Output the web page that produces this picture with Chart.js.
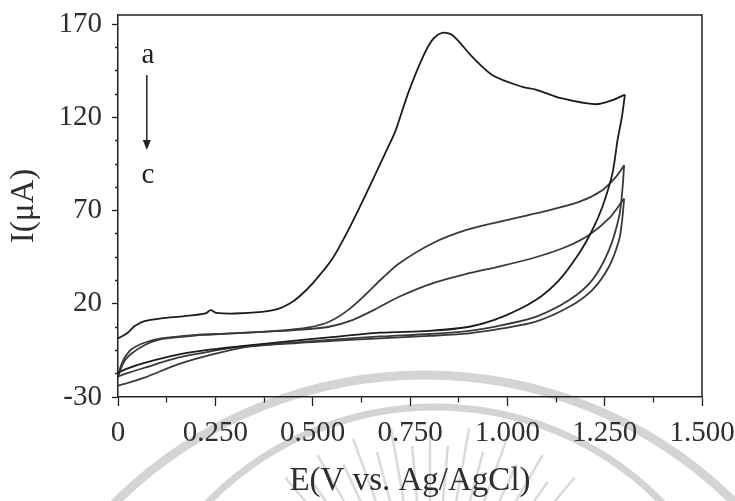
<!DOCTYPE html>
<html>
<head>
<meta charset="utf-8">
<script src="https://cdn.jsdelivr.net/npm/chart.js@4.4.1/dist/chart.umd.min.js"></script>
<style>
  html, body { margin: 0; padding: 0; background: #fff; }
</style>
</head>
<body>
<canvas id="cvChart" width="735" height="501"></canvas>
<script>
// [E (V vs Ag/AgCl), I (uA)] for each scan branch, curves a -> c
const aForward = [
  [0.000, 1.4], [0.025, 4.5], [0.042, 8.0], [0.068, 10.7], [0.111, 12.2], [0.171, 13.4],
  [0.225, 14.9], [0.238, 16.6], [0.252, 15.2], [0.300, 14.8], [0.370, 15.7], [0.410, 17.2],
  [0.440, 20.0], [0.465, 23.8], [0.500, 31.0], [0.550, 44.0], [0.600, 63.0], [0.636, 78.5],
  [0.688, 101.5], [0.713, 113.0], [0.722, 118.5], [0.747, 134.0], [0.782, 152.0], [0.807, 161.5],
  [0.833, 165.4], [0.860, 164.0], [0.910, 152.5], [0.962, 142.7], [1.039, 136.4], [1.073, 135.0],
  [1.141, 130.2], [1.227, 127.1], [1.270, 129.3], [1.302, 132.3]
];
const aReverse = [
  [1.302, 132.3], [1.294, 120.0], [1.283, 107.8], [1.270, 90.0], [1.244, 72.0], [1.218, 59.5],
  [1.184, 47.0], [1.133, 32.7], [1.073, 22.0], [0.987, 13.0], [0.902, 7.7], [0.800, 5.5],
  [0.673, 4.5], [0.542, 2.0], [0.405, -0.8], [0.317, -2.7], [0.240, -4.5], [0.154, -7.3],
  [0.068, -11.7], [0.020, -15.0], [0.000, -17.0]
];
const bForward = [
  [0.000, -18.0], [0.008, -13.0], [0.017, -8.9], [0.034, -4.5], [0.068, -0.9], [0.111, 1.4],
  [0.197, 3.2], [0.285, 4.1], [0.405, 5.5], [0.490, 7.4], [0.542, 10.4], [0.590, 16.5],
  [0.636, 25.0], [0.680, 34.0], [0.722, 41.7], [0.807, 52.4], [0.893, 59.5], [0.979, 64.0],
  [1.073, 68.5], [1.184, 74.7], [1.244, 81.0], [1.279, 88.1], [1.300, 94.4]
];
const bReverse = [
  [1.300, 94.4], [1.295, 80.0], [1.287, 66.7], [1.261, 48.8], [1.218, 32.7], [1.159, 22.0],
  [1.073, 13.0], [0.987, 8.6], [0.902, 5.5], [0.800, 3.8], [0.673, 2.5], [0.542, 0.6],
  [0.405, -1.5], [0.317, -3.0], [0.240, -5.4], [0.154, -8.9], [0.068, -14.3], [0.020, -17.5],
  [0.000, -19.0]
];
const cForward = [
  [0.000, -19.5], [0.008, -14.5], [0.017, -10.6], [0.034, -6.8], [0.068, -2.2], [0.111, 1.0],
  [0.197, 3.0], [0.285, 4.0], [0.405, 5.3], [0.490, 6.5], [0.542, 7.7], [0.602, 11.3],
  [0.660, 17.0], [0.722, 23.8], [0.807, 31.0], [0.893, 36.0], [0.979, 40.0], [1.073, 45.0],
  [1.150, 50.5], [1.210, 57.0], [1.261, 65.8], [1.300, 76.5]
];
const cReverse = [
  [1.300, 76.5], [1.295, 65.0], [1.287, 54.2], [1.261, 39.9], [1.218, 27.4], [1.159, 18.4],
  [1.073, 10.4], [0.987, 6.8], [0.902, 4.2], [0.800, 2.8], [0.673, 1.5], [0.542, 0.0],
  [0.405, -1.8], [0.317, -3.6], [0.240, -7.3], [0.154, -12.5], [0.068, -19.6], [0.020, -22.8],
  [0.004, -23.6], [0.000, -24.0]
];

const xMajor = [0, 0.25, 0.5, 0.75, 1.0, 1.25, 1.5];
const xMinor = [0.125, 0.375, 0.625, 0.875, 1.125, 1.375];
const yMajor = [-30, 20, 70, 120, 170];
const yMinor = [-17.5, -5, 7.5, 32.5, 45, 57.5, 82.5, 95, 107.5, 132.5, 145, 157.5];

// "a -> c" marker, in data units
const noteE = 0.077;
const arrowE = 0.074;
const noteTopI = 149.2;
const arrowFromI = 142.8;
const arrowToI = 102.5;
const noteBottomI = 84.8;

const serif = "'Liberation Serif', 'Times New Roman', serif";
const ink = '#222';

const toPts = arr => arr.map(p => ({ x: p[0], y: p[1] }));

function branch(arr, color) {
  return {
    data: toPts(arr),
    showLine: true,
    borderColor: color,
    borderWidth: 1.8,
    pointRadius: 0,
    tension: 0.3,
    fill: false
  };
}

// faint seal printed behind the lower part of the figure
const sealPlugin = {
  id: 'seal',
  beforeDraw(chart) {
    const c = chart.ctx;
    c.save();
    c.strokeStyle = '#d4d4d4';
    c.lineWidth = 9;
    c.beginPath();
    c.arc(425, 815, 440, Math.PI, 2 * Math.PI);
    c.stroke();
    c.lineWidth = 7;
    c.beginPath();
    c.arc(435, 725, 318, Math.PI, 2 * Math.PI);
    c.stroke();
    c.strokeStyle = '#dadada';
    c.lineWidth = 2.5;
    for (let deg = -140, k = 0; deg <= -40; deg += 5, k++) {
      const t = deg * Math.PI / 180;
      const r2 = k % 2 ? 205 : 225;
      c.beginPath();
      c.moveTo(430 + 120 * Math.cos(t), 650 + 120 * Math.sin(t));
      c.lineTo(430 + r2 * Math.cos(t), 650 + r2 * Math.sin(t));
      c.stroke();
    }
    c.restore();
  }
};

// closes the box on the top and right sides
const framePlugin = {
  id: 'frame',
  afterDraw(chart) {
    const { ctx, chartArea: a } = chart;
    ctx.save();
    ctx.strokeStyle = ink;
    ctx.lineWidth = 1.5;
    ctx.beginPath();
    ctx.moveTo(a.left, a.top);
    ctx.lineTo(a.right, a.top);
    ctx.lineTo(a.right, a.bottom);
    ctx.stroke();
    ctx.restore();
  }
};

const notePlugin = {
  id: 'note',
  afterDatasetsDraw(chart) {
    const { ctx, scales: { x, y } } = chart;
    const ax = x.getPixelForValue(arrowE);
    const y1 = y.getPixelForValue(arrowFromI);
    const y2 = y.getPixelForValue(arrowToI);
    ctx.save();
    ctx.fillStyle = ink;
    ctx.strokeStyle = ink;
    ctx.font = '29px ' + serif;
    ctx.textAlign = 'center';
    ctx.textBaseline = 'alphabetic';
    ctx.fillText('a', x.getPixelForValue(noteE), y.getPixelForValue(noteTopI));
    ctx.fillText('c', x.getPixelForValue(noteE), y.getPixelForValue(noteBottomI));
    ctx.lineWidth = 1.5;
    ctx.beginPath();
    ctx.moveTo(ax, y1);
    ctx.lineTo(ax, y2 - 8);
    ctx.stroke();
    ctx.beginPath();
    ctx.moveTo(ax - 4, y2 - 10);
    ctx.lineTo(ax + 4, y2 - 10);
    ctx.lineTo(ax, y2);
    ctx.closePath();
    ctx.fill();
    ctx.restore();
  }
};

const isMinorX = v => xMinor.includes(v);
const isMinorY = v => yMinor.includes(v);

new Chart(document.getElementById('cvChart'), {
  type: 'scatter',
  data: {
    datasets: [
      branch(aForward, '#1c1c1c'), branch(aReverse, '#1c1c1c'),
      branch(bForward, '#3a3a3a'), branch(bReverse, '#3a3a3a'),
      branch(cForward, '#3a3a3a'), branch(cReverse, '#3a3a3a')
    ]
  },
  options: {
    responsive: false,
    animation: false,
    layout: { padding: { left: 0, right: 33, top: 15, bottom: 0 } },
    plugins: {
      legend: { display: false },
      tooltip: { enabled: false }
    },
    scales: {
      x: {
        type: 'linear',
        min: 0,
        max: 1.5,
        afterBuildTicks: s => {
          s.ticks = xMajor.concat(xMinor).sort((p, q) => p - q).map(v => ({ value: v }));
        },
        afterFit: s => {
          s.height = 104;
          s.paddingLeft = 0;
          s.paddingRight = 0;
        },
        ticks: {
          autoSkip: false,
          maxRotation: 0,
          padding: 10,
          color: '#2e2e2e',
          font: { family: serif, size: 29 },
          callback: v => isMinorX(v) ? '' : (v === 0 ? '0' : v.toFixed(3))
        },
        grid: {
          drawOnChartArea: false,
          tickLength: 9,
          tickWidth: 1.3,
          tickColor: ink,
          tickBorderDash: c => (c.tick && isMinorX(c.tick.value)) ? [5, 100] : []
        },
        border: { color: ink, width: 1.5 },
        title: {
          display: true,
          text: 'E(V vs. Ag/AgCl)',
          color: '#2e2e2e',
          font: { family: serif, size: 33 },
          padding: { top: 0, bottom: 0 }
        }
      },
      y: {
        type: 'linear',
        min: -30,
        max: 175,
        afterBuildTicks: s => {
          s.ticks = yMajor.concat(yMinor).sort((p, q) => p - q).map(v => ({ value: v }));
        },
        afterFit: s => {
          s.width = 118;
          s.paddingTop = 0;
          s.paddingBottom = 0;
        },
        ticks: {
          autoSkip: false,
          padding: 10,
          color: '#2e2e2e',
          font: { family: serif, size: 29 },
          callback: v => isMinorY(v) ? '' : String(v)
        },
        grid: {
          drawOnChartArea: false,
          tickLength: 6,
          tickWidth: 1.3,
          tickColor: ink,
          tickBorderDash: c => (c.tick && isMinorY(c.tick.value)) ? [3, 100] : [],
          tickBorderDashOffset: c => (c.tick && isMinorY(c.tick.value)) ? 100 : 0
        },
        border: { color: ink, width: 1.5 },
        title: {
          display: true,
          text: 'I(μA)',
          color: '#2e2e2e',
          font: { family: serif, size: 33 },
          padding: { top: 5, bottom: 0 }
        }
      }
    }
  },
  plugins: [sealPlugin, framePlugin, notePlugin]
});
</script>
</body>
</html>
